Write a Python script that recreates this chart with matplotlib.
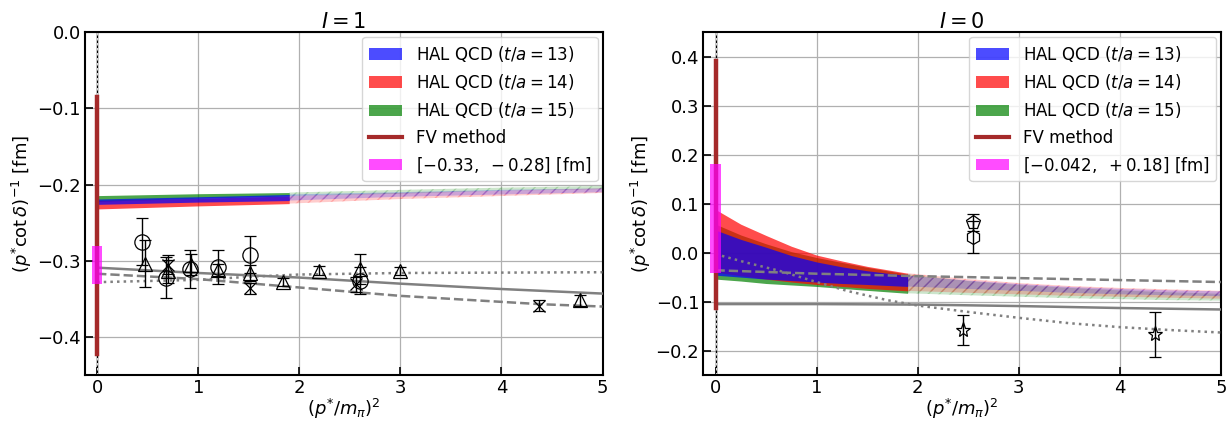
import numpy as np
import matplotlib
matplotlib.use('Agg')
import matplotlib.pyplot as plt
from matplotlib.patches import Patch
from matplotlib.lines import Line2D

# ===================== data =============================
x_cut = 1.9  # solid band ends here, hatched beyond

# I = 1 : HAL QCD bands
x_band1 = [0.0, 1.0, 1.9, 3.0, 4.0, 5.0]
blue1_lo = [-0.226, -0.223, -0.221, -0.216, -0.213, -0.210]
blue1_hi = [-0.219, -0.216, -0.213, -0.210, -0.207, -0.205]
red1_lo = [-0.232, -0.228, -0.225, -0.219, -0.215, -0.211]
red1_hi = [-0.221, -0.218, -0.215, -0.211, -0.208, -0.205]
green1_lo = [-0.222, -0.218, -0.215, -0.212, -0.208, -0.206]
green1_hi = [-0.2145, -0.212, -0.2105, -0.207, -0.204, -0.202]

# I = 0 : HAL QCD bands
x_band0 = [0.0, 0.25, 0.5, 0.75, 1.0, 1.25, 1.5, 1.9, 2.5, 3.0, 3.5, 4.0, 4.5, 5.0]
blue0_hi = [0.046, 0.027, 0.011, -0.006, -0.019, -0.029, -0.037, -0.047, -0.057, -0.064, -0.070, -0.074, -0.077, -0.079]
blue0_lo = [-0.046, -0.050, -0.054, -0.057, -0.060, -0.063, -0.065, -0.069, -0.074, -0.078, -0.082, -0.085, -0.087, -0.089]
red0_hi = [0.088, 0.058, 0.035, 0.013, -0.005, -0.017, -0.028, -0.042, -0.054, -0.062, -0.068, -0.072, -0.075, -0.078]
red0_lo = [-0.040, -0.047, -0.054, -0.060, -0.065, -0.069, -0.073, -0.078, -0.082, -0.085, -0.088, -0.090, -0.092, -0.094]
green0_hi = [0.058, 0.036, 0.018, 0.002, -0.010, -0.020, -0.030, -0.044, -0.058, -0.066, -0.072, -0.077, -0.081, -0.084]
green0_lo = [-0.054, -0.058, -0.063, -0.066, -0.069, -0.073, -0.077, -0.083, -0.087, -0.090, -0.093, -0.095, -0.097, -0.098]

# FV method and range
fv1 = [-0.422, -0.085]
fv0 = [-0.112, 0.39]
range1 = [-0.33, -0.28]
range0 = [-0.042, 0.18]

# gray reference curves, I = 1
xs1 = [0, 1, 2, 3, 4, 5]
solid1 = [-0.309, -0.316, -0.322, -0.330, -0.337, -0.343]
xd1 = [0, 1, 2, 3, 4.4, 5]
dashed1 = [-0.317, -0.324, -0.335, -0.346, -0.357, -0.360]
xdot1 = [0, 1, 1.5, 2, 3, 5]
dotted1 = [-0.328, -0.325, -0.321, -0.318, -0.316, -0.315]

# gray reference curves, I = 0
xs0 = [0, 1, 2, 3, 4, 5]
solid0 = [-0.105, -0.105, -0.106, -0.109, -0.113, -0.116]
dashed0 = [-0.036, -0.043, -0.048, -0.052, -0.056, -0.060]
xdot0 = [0.0, 0.3, 0.63, 1.0, 1.3, 1.7, 2.0, 2.5, 3.0, 3.5, 4.0, 4.5, 5.0]
dotted0 = [-0.003, -0.020, -0.037, -0.060, -0.078, -0.097, -0.108, -0.121, -0.133, -0.144, -0.152, -0.158, -0.163]

# lattice points, I = 1
circ_x = [0.44, 0.68, 0.92, 1.2, 1.51, 2.6]
circ_y = [-0.275, -0.322, -0.311, -0.308, -0.292, -0.326]
circ_e = [0.031, 0.027, 0.025, 0.022, 0.024, 0.018]
tri_x = [0.47, 0.7, 0.93, 1.2, 1.51, 1.84, 2.2, 2.6, 3.0, 4.78]
tri_y = [-0.304, -0.314, -0.305, -0.312, -0.316, -0.328, -0.313, -0.311, -0.313, -0.352]
tri_e = [0.031, 0.015, 0.014, 0.008, 0.010, 0.005, 0.006, 0.020, 0.005, 0.007]
cross_x = [0.7, 1.51, 2.56, 4.37]
cross_y = [-0.305, -0.336, -0.331, -0.359]
cross_e = [0.012, 0.007, 0.010, 0.007]

# lattice points, I = 0
pent_x, pent_y, pent_e = [2.55], [0.062], [0.017]
hex_x, hex_y, hex_e = [2.55], [0.032], [0.032]
star_x = [2.45, 4.35]
star_y = [-0.158, -0.167]
star_e = [0.030, 0.045]

# ===================== drawing =============================
plt.rcParams['font.size'] = 13


def draw_band(ax, x, lo, hi, color):
    x = np.array(x)
    lo = np.array(lo)
    hi = np.array(hi)
    m = x <= x_cut
    ax.fill_between(x[m], lo[m], hi[m], color=color, alpha=0.7, linewidth=0)
    m = x >= x_cut
    ax.fill_between(x[m], lo[m], hi[m], facecolor=color, alpha=0.2,
                    hatch='///', edgecolor=color, linewidth=0)


def draw_panel(ax, bands, fv, rng, curves, points, title, ylim, yticks):
    ax.axvline(0, color='k', lw=1, zorder=1)
    ax.axvline(0, color='w', lw=0.6, ls=(0, (3, 3)), zorder=1)
    for x, lo, hi, c in bands:
        draw_band(ax, x, lo, hi, c)
    for x, y, ls in curves:
        ax.plot(x, y, color='gray', lw=1.8, ls=ls, zorder=3)
    ax.plot([0, 0], fv, color='brown', lw=3.2, zorder=4)
    ax.fill_betweenx(rng, -0.05, 0.05, color='magenta', alpha=0.7, linewidth=0, zorder=5)
    for x, y, e, mk, ms in points:
        ax.errorbar(x, y, yerr=e, fmt=mk, ms=ms, mfc='none', mec='k', mew=0.9,
                    ecolor='k', elinewidth=1, capsize=4.5, capthick=1, zorder=6)
    ax.set_xlim(-0.12, 5)
    ax.set_ylim(ylim)
    ax.set_yticks(yticks)
    ax.set_xticks([0, 1, 2, 3, 4, 5])
    ax.grid(True, color='#b0b0b0', lw=0.9)
    ax.set_axisbelow(True)
    ax.tick_params(direction='in', length=6, width=1.2, labelsize=13, pad=3)
    for s in ax.spines.values():
        s.set_linewidth(1.5)
    ax.set_title(title, fontsize=15, pad=3)
    ax.set_xlabel(r'$(p^{*}/m_{\pi})^2$', fontsize=13, labelpad=0)
    ax.set_ylabel(r'$(p^{*}\cot\delta)^{-1}$ [fm]', fontsize=13, labelpad=2)

    handles = [Patch(facecolor='blue', alpha=0.7, label=r'HAL QCD ($t/a=13$)'),
               Patch(facecolor='red', alpha=0.7, label=r'HAL QCD ($t/a=14$)'),
               Patch(facecolor='green', alpha=0.7, label=r'HAL QCD ($t/a=15$)'),
               Line2D([], [], color='brown', lw=3, label='FV method'),
               Patch(facecolor='magenta', alpha=0.7,
                     label=r'$[%s,%s]$ [fm]' % rng_labels[title])]
    ax.legend(handles=handles, loc='upper right', fontsize=12, borderaxespad=0.3)


rng_labels = {r'$I=1$': (r'-0.33', r'\ -0.28'),
              r'$I=0$': (r'-0.042', r'\ +0.18')}

fig, (ax1, ax0) = plt.subplots(1, 2, figsize=(12.32, 4.22), dpi=100)
fig.subplots_adjust(left=0.069, right=0.991, bottom=0.111, top=0.924, wspace=0.195)

draw_panel(ax1,
           [(x_band1, green1_lo, green1_hi, 'green'),
            (x_band1, red1_lo, red1_hi, 'red'),
            (x_band1, blue1_lo, blue1_hi, 'blue')],
           fv1, range1,
           [(xs1, solid1, '-'), (xd1, dashed1, '--'), (xdot1, dotted1, ':')],
           [(circ_x, circ_y, circ_e, 'o', 11),
            (tri_x, tri_y, tri_e, '^', 10),
            (cross_x, cross_y, cross_e, 'x', 9)],
           r'$I=1$', (-0.45, 0.0), [-0.4, -0.3, -0.2, -0.1, 0.0])

draw_panel(ax0,
           [(x_band0, green0_lo, green0_hi, 'green'),
            (x_band0, red0_lo, red0_hi, 'red'),
            (x_band0, blue0_lo, blue0_hi, 'blue')],
           fv0, range0,
           [(xs0, solid0, '-'), (xs0, dashed0, '--'), (xdot0, dotted0, ':')],
           [(pent_x, pent_y, pent_e, 'p', 10),
            (hex_x, hex_y, hex_e, 'h', 10),
            (star_x, star_y, star_e, '*', 11)],
           r'$I=0$', (-0.25, 0.45), [-0.2, -0.1, 0.0, 0.1, 0.2, 0.3, 0.4])

fig.savefig('out.png', dpi=100)
